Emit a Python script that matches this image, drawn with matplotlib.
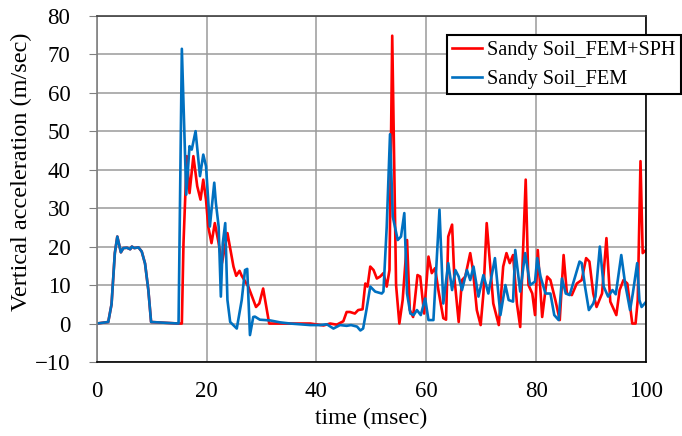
import matplotlib
matplotlib.use("Agg")
import matplotlib.pyplot as plt

# Sandy Soil_FEM (blue)
t_fem = [0, 2.1, 2.7, 3.3, 3.75, 4.4, 4.85, 5.5, 6.1, 6.4, 6.85, 7.6, 8.2, 8.8, 9.4, 9.9,
         14.9, 15.5, 16.3, 16.9, 17.3, 18.0, 18.8, 19.4, 19.9, 20.6, 21.4, 21.7, 22.2, 22.6,
         22.95, 23.4, 23.8, 24.3, 25.5, 26.4, 27.0, 27.4, 27.9, 28.5, 28.8, 29.7, 31.6, 33.4,
         35.2, 38.9, 40.7, 41.9, 43.1, 44.3, 45.5, 46.3, 47.4, 48.0, 48.5, 49.1, 49.8, 50.7,
         51.9, 52.2, 52.8, 53.4, 53.9, 54.8, 55.4, 56.0, 56.5, 57.1, 57.7, 58.3, 59.0, 59.8,
         60.4, 61.3, 62.4, 63.1, 64.0, 64.7, 65.3, 65.9, 66.5, 67.4, 68.0, 68.6, 69.5, 70.4,
         71.3, 72.5, 73.5, 74.4, 75.0, 75.8, 76.2, 77.1, 78.0, 78.9, 79.8, 80.2, 80.8, 81.7,
         82.6, 83.3, 84.1, 84.7, 85.4, 86.1, 87.1, 87.9, 88.3, 88.9, 89.6, 90.4, 90.8, 91.6,
         92.3, 93.1, 93.9, 94.5, 95.5, 96.2, 97.1, 97.6, 98.4, 98.8, 99.2, 100]
v_fem = [0, 0.4, 5, 18.3, 22.6, 18.5, 19.6, 19.7, 19.3, 20, 19.6, 19.8, 18.7, 15.6, 8.7, 0.4,
         0, 71.4, 33.5, 46.1, 45.2, 50, 38.3, 43.9, 40.9, 25.2, 36.6, 31.3, 25.2, 7,
         20.9, 26.1, 6.1, 0.4, -1.3, 6.1, 13.9, 14.2, -3, 1.7, 1.8, 1.0, 0.8, 0.3,
         0, -0.4, -0.4, -0.2, -1.3, -0.4, -0.6, -0.4, -0.8, -1.8, -1.3, 3.5, 9.6, 8.3,
         7.8, 8.3, 25.2, 49.2, 27.8, 21.7, 22.6, 28.7, 7.8, 2.6, 2.2, 3.5, 2.2, 6.5,
         0.9, 0.9, 29.6, 5.2, 15.7, 8.7, 13.9, 12.2, 8.7, 13.9, 11.3, 14.8, 7, 12.6,
         7.8, 17, 2.2, 10, 6.1, 5.7, 19.1, 8.3, 18.3, 10, 10.9, 17, 12.2, 7.8,
         7.8, 2.2, 0.9, 11.7, 7.8, 7.4, 12.2, 16.1, 15.7, 9.6, 3.5, 5.2, 7, 20,
         9.6, 7, 8.7, 7.6, 17.8, 10.4, 3.5, 7.8, 15.7, 6.1, 4.3, 5.6]

# Sandy Soil_FEM+SPH (red)
t_sph = [0, 2.1, 2.7, 3.3, 3.75, 4.4, 4.85, 5.5, 6.1, 6.4, 6.85, 7.6, 8.2, 8.8, 9.4, 9.9,
         14.9, 15.5, 15.8, 16.4, 16.9, 17.6, 18.3, 18.9, 19.4, 19.9, 20.3, 20.9, 21.5, 22.2,
         22.8, 23.8, 24.9, 25.4, 26.0, 26.4, 27.6, 29.0, 29.6, 30.3, 31.4, 38.9, 41.3, 42.5,
         43.7, 44.9, 45.5, 46.1, 47.0, 47.6, 48.4, 48.9, 49.3, 49.8, 50.4, 51.0, 51.6, 52.2,
         52.8, 53.3, 53.8, 54.5, 55.1, 55.7, 56.5, 57.0, 57.6, 58.4, 58.9, 59.6, 60.4, 61.0,
         61.6, 62.2, 63.1, 63.6, 64.0, 64.7, 65.1, 65.9, 66.5, 67.1, 68.0, 68.5, 69.2, 69.9,
         70.4, 71.0, 71.6, 72.2, 73.2, 74.0, 74.6, 75.2, 75.8, 76.5, 77.1, 78.1, 78.6, 79.3,
         79.8, 80.3, 81.1, 82.0, 82.6, 83.5, 84.3, 85.0, 85.6, 86.5, 87.4, 88.3, 89.1, 89.7,
         90.4, 91.0, 92.0, 92.8, 93.5, 94.6, 95.2, 95.9, 96.6, 97.5, 98.1, 98.5, 99.0, 99.4, 100]
v_sph = [0, 0.4, 5, 18.3, 22.6, 18.5, 19.6, 19.7, 19.3, 20, 19.6, 19.8, 18.7, 15.6, 8.7, 0.4,
         0, 0, 20.9, 43.5, 33.9, 43.5, 35.7, 32.2, 37.4, 32.2, 25.2, 20.9, 26.1, 20.9,
         15.7, 23.5, 14.8, 12.4, 13.7, 12.4, 9.6, 4.3, 5.2, 9.1, 0, 0, -0.5, 0,
         -0.3, 0.6, 3, 3, 2.6, 3.5, 3.7, 10.4, 9.6, 14.8, 13.9, 11.7, 12.2, 13.1,
         9.6, 13.9, 74.8, 10, 0, 6.1, 21.7, 3.5, 1.7, 12.6, 12.2, 2.6, 17.4, 13.1,
         14.4, 8.7, 1.4, 1.0, 22.6, 25.7, 12.2, 0.4, 11.3, 12.2, 18.3, 13.9, 3.5, -0.4,
         7.8, 26.1, 15.7, 5.2, -0.4, 14.8, 18.3, 15.7, 17.8, 5.2, -0.9, 37.4, 10, 7.8,
         2.2, 19.1, 1.7, 12.2, 11.3, 6.1, 0.9, 17.8, 7.8, 7.4, 10.4, 11.3, 17, 16.1,
         7.8, 4.3, 7.8, 22.2, 5.7, 2.2, 8.7, 11.3, 10.4, 0, 0, 6.1, 42.2, 18.3, 19.1]

x_ticks = [0, 20, 40, 60, 80, 100]
y_ticks = [-10, 0, 10, 20, 30, 40, 50, 60, 70, 80]

plt.rcParams["font.family"] = ["Liberation Serif", "DejaVu Serif"]

fig = plt.figure(figsize=(6.82, 4.36), dpi=100)
ax = fig.add_axes([0.1418, 0.1697, 0.8054, 0.7943])

ax.plot(t_sph, v_sph, color="#FF0000", lw=1.9, label="Sandy Soil_FEM+SPH")
ax.plot(t_fem, v_fem, color="#0070C0", lw=1.9, label="Sandy Soil_FEM")

ax.set_xlim(0, 100)
ax.set_ylim(-10, 80)
ax.set_xticks(x_ticks)
ax.set_yticks(y_ticks)
ax.grid(True, color="#9a9a9a", lw=1.1)
ax.set_axisbelow(True)
ax.tick_params(axis="x", length=0, pad=14, labelsize=16.5)
ax.tick_params(axis="y", length=6, direction="out", color="#808080", pad=13, labelsize=16.5)

ax.spines["left"].set_color("#808080")
ax.spines["top"].set_color("#404040")
ax.spines["right"].set_color("black")
ax.spines["bottom"].set_color("black")
for s in ax.spines.values():
    s.set_linewidth(1.2)

ax.set_xlabel("time (msec)", fontsize=17, labelpad=4)
ax.set_ylabel("Vertical acceleration (m/sec)", fontsize=17.5)
ax.yaxis.set_label_coords(-0.118, 0.549)

leg = ax.legend(loc="upper left", bbox_to_anchor=(447 / 682, 1 - 35 / 436),
                bbox_transform=fig.transFigure, fontsize=14.6, frameon=True, fancybox=False,
                edgecolor="black", framealpha=1, handlelength=1.45, handletextpad=0.25,
                borderpad=0.27, labelspacing=0.5, borderaxespad=0)
leg.get_frame().set_linewidth(1.5)

fig.savefig("out.png", dpi=100)
